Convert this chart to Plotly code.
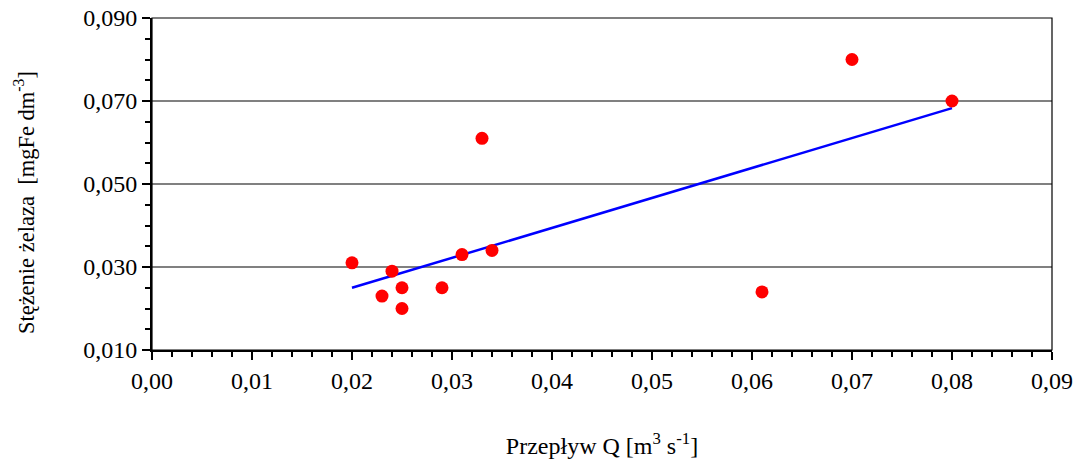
import numpy as np
import plotly.graph_objects as go

# Flow rate Q [m3/s] and iron concentration [mgFe/dm3]
flow_q = [0.020, 0.023, 0.024, 0.025, 0.025, 0.029, 0.031, 0.033, 0.034, 0.061, 0.070, 0.080]
iron_conc = [0.031, 0.023, 0.029, 0.025, 0.020, 0.025, 0.033, 0.061, 0.034, 0.024, 0.080, 0.070]

# Least-squares linear trend over the observed flow range
slope, intercept = np.polyfit(flow_q, iron_conc, 1)
trend_x = [min(flow_q), max(flow_q)]
trend_y = [slope * x + intercept for x in trend_x]

FONT = "Liberation Serif"

fig = go.Figure()
fig.add_trace(go.Scatter(
    x=trend_x, y=trend_y, mode="lines",
    line=dict(color="#0000FF", width=2.5), showlegend=False,
))
fig.add_trace(go.Scatter(
    x=flow_q, y=iron_conc, mode="markers",
    marker=dict(color="#FF0000", size=13, line=dict(width=0)), showlegend=False,
))

# thin frame around the plotting area
fig.add_shape(type="rect", xref="paper", yref="paper", x0=0, y0=0, x1=1, y1=1,
              line=dict(color="black", width=1.2), layer="above")

# vertical axis title, placed slightly below the plot centre
fig.add_annotation(
    text="Stężenie żelaza  [mgFe dm<sup>-3</sup>]",
    xref="paper", yref="paper", x=-0.142, y=0.443,
    xanchor="center", yanchor="middle", textangle=-90, showarrow=False,
    font=dict(family=FONT, size=22.5, color="black"),
)

fig.update_layout(
    width=1080, height=464,
    margin=dict(l=152, r=28, t=18, b=114, autoexpand=False),
    paper_bgcolor="white", plot_bgcolor="white",
    separators=", ",
    font=dict(family=FONT, size=24, color="black"),
    xaxis=dict(
        range=[0, 0.09], tick0=0, dtick=0.01, tickformat=".2f",
        showgrid=False, zeroline=False, automargin=False,
        showline=True, linecolor="black", linewidth=2,
        ticks="outside", ticklen=8, tickwidth=2, tickcolor="black",
        minor=dict(dtick=0.002, ticks="outside", ticklen=5, tickwidth=2, tickcolor="black"),
        tickfont=dict(family=FONT, size=24),
        title=dict(text="Przepływ Q [m<sup>3</sup> s<sup>-1</sup>]",
                   font=dict(family=FONT, size=24), standoff=44),
    ),
    yaxis=dict(
        range=[0.010, 0.090], tick0=0.010, dtick=0.020, tickformat=".3f",
        showgrid=True, gridcolor="#808080", gridwidth=1.5, zeroline=False,
        automargin=False,
        showline=True, linecolor="black", linewidth=2,
        ticks="outside", ticklen=8, tickwidth=2, tickcolor="black",
        minor=dict(dtick=0.005, ticks="outside", ticklen=5, tickwidth=2,
                   tickcolor="black", showgrid=False),
        tickfont=dict(family=FONT, size=24),
    ),
)

fig.write_html("out.html")
